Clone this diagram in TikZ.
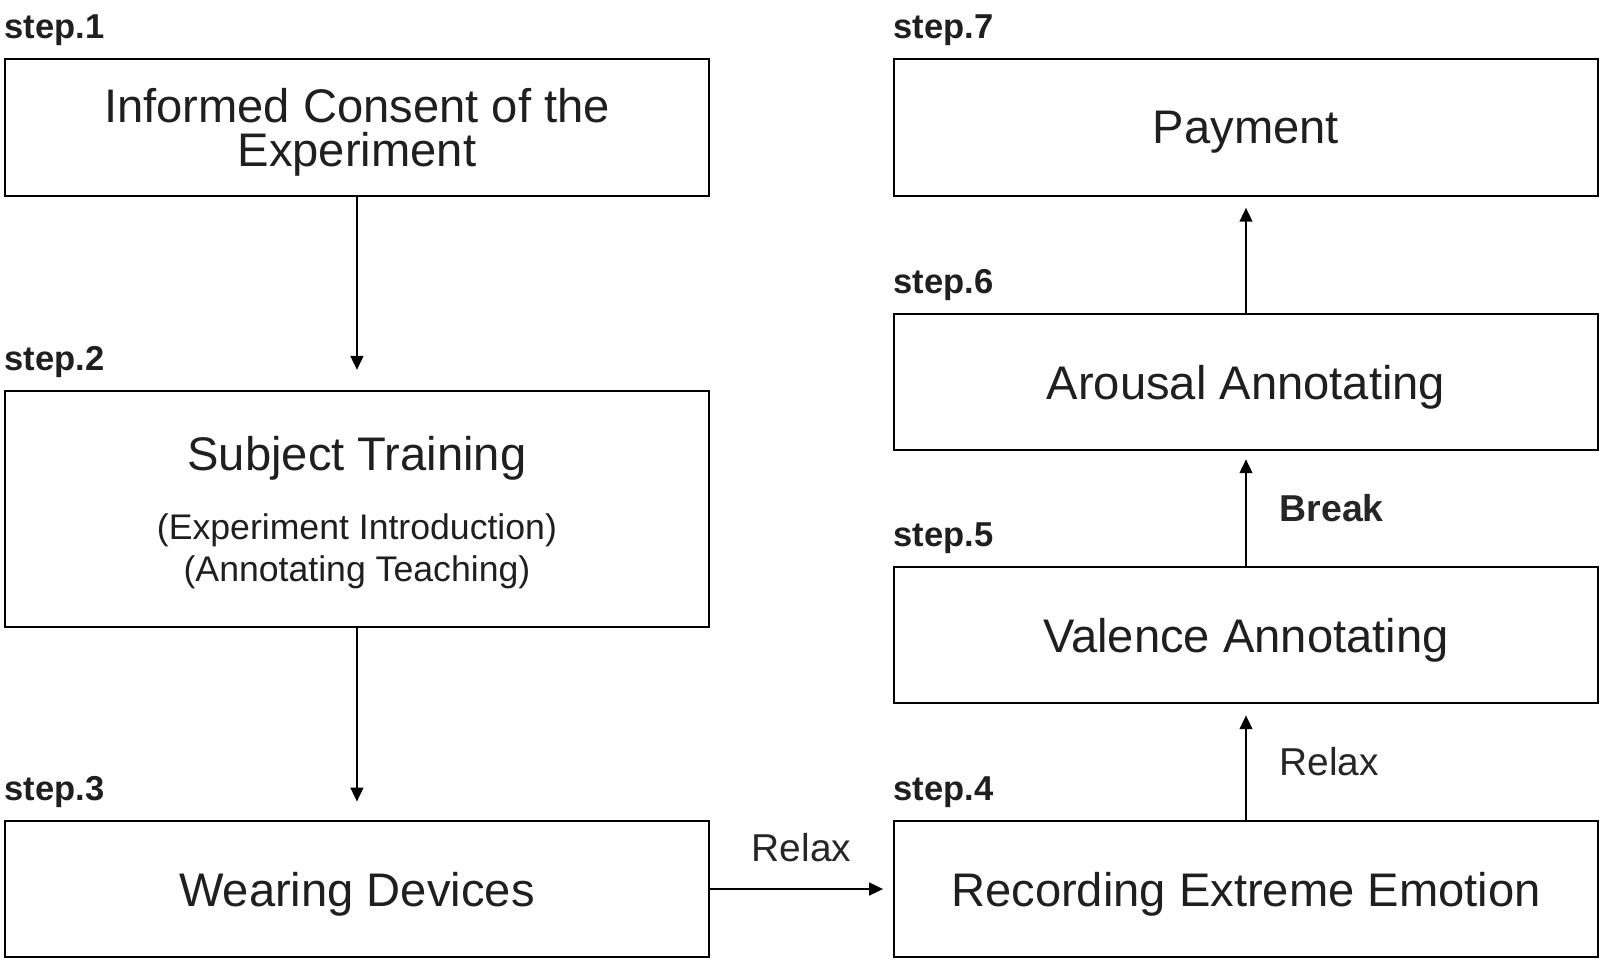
\documentclass[tikz,border=0pt]{standalone}
\usepackage{fontspec}
\setmainfont{Liberation Sans}
\usetikzlibrary{arrows.meta}
\begin{document}
\begin{tikzpicture}[x=0.02cm,y=-0.02cm,
    box/.style={draw,line width=1.1pt,minimum width=13.74cm,minimum height=2.66cm,inner sep=0pt,align=center,text depth=0pt,text=black!88,font=\fontsize{26.2}{24.4}\selectfont},
    steplbl/.style={anchor=base west,inner sep=0pt,text=black!88,font=\bfseries\fontsize{19.2}{22}\selectfont},
    flow/.style={-{Triangle[length=0.27cm,width=0.25cm]},line width=1pt},
    note/.style={inner sep=0pt,text=black!85,font=\fontsize{21.6}{24}\selectfont}]
    \useasboundingbox (0,0) rectangle (1568,943);
    % left column
    \node[box] (b1) at (348.5,124.5) {Informed Consent of the\\Experiment};
    \node[box,minimum height=4.6cm] (b2) at (348.5,497) {Subject Training\\[0.5cm]
        {\fontsize{19.8}{22.7}\selectfont (Experiment Introduction)}\\[-0.04cm]
        {\fontsize{19.8}{22.7}\selectfont (Annotating Teaching)}};
    \node[box] (b3) at (348.5,868) {Wearing Devices};
    % right column
    \node[box] (b4) at (1216.5,868) {Recording Extreme Emotion};
    \node[box] (b5) at (1216.5,620) {Valence Annotating};
    \node[box] (b6) at (1216.5,373) {Arousal Annotating};
    \node[box] (b7) at (1216.5,124.5) {Payment};
    % step labels
    \node[steplbl] (s1) at ([yshift=0.38cm]b1.north west) {step.1};
    \node[steplbl] (s2) at ([yshift=0.38cm]b2.north west) {step.2};
    \node[steplbl] (s3) at ([yshift=0.38cm]b3.north west) {step.3};
    \node[steplbl] (s4) at ([yshift=0.38cm]b4.north west) {step.4};
    \node[steplbl] (s5) at ([yshift=0.38cm]b5.north west) {step.5};
    \node[steplbl] (s6) at ([yshift=0.38cm]b6.north west) {step.6};
    \node[steplbl] (s7) at ([yshift=0.38cm]b7.north west) {step.7};
    % arrows
    \draw[flow,shorten >=0.4cm] (b1) -- (b2);
    \draw[flow,shorten >=0.36cm] (b2) -- (b3);
    \draw[flow,shorten >=0.2cm] (b3) -- node[note,above=0.52cm] (r1) {Relax} (b4);
    \draw[flow,shorten >=0.22cm] (b4) -- node[note,anchor=west,xshift=0.64cm] (r2) {Relax} (b5);
    \draw[flow,shorten >=0.16cm] (b5) -- node[note,anchor=west,xshift=0.64cm,font=\bfseries\fontsize{20.8}{24}\selectfont] (br) {Break} (b6);
    \draw[flow,shorten >=0.22cm] (b6) -- (b7);
\end{tikzpicture}
\end{document}
